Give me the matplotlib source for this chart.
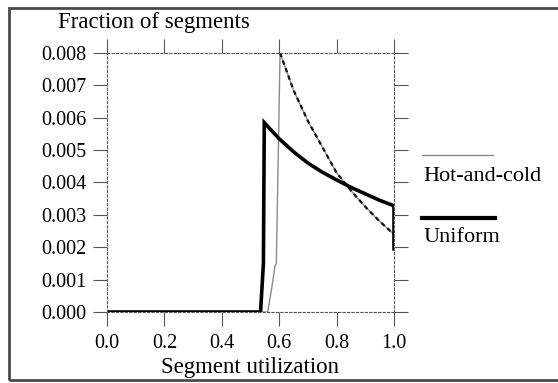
import matplotlib
matplotlib.use("Agg")
import matplotlib.pyplot as plt
from matplotlib.patches import Rectangle
from matplotlib.lines import Line2D

plt.rcParams['font.family'] = ['Liberation Serif', 'DejaVu Serif']

# Uniform (thick black)
uni_x = [0.0, 0.535, 0.545, 0.548, 0.6, 0.65, 0.7, 0.75, 0.8, 0.85, 0.9, 0.95, 1.0, 1.0]
uni_y = [0.0, 0.0, 0.0015, 0.00585, 0.00535, 0.00495, 0.0046, 0.00432, 0.00408,
         0.00385, 0.00365, 0.00345, 0.00328, 0.00195]

# Hot-and-cold (thin gray rise, dashed black decay)
hc_rise_x = [0.0, 0.56, 0.575, 0.585, 0.59, 0.603]
hc_rise_y = [0.0, 0.0, 0.0008, 0.0014, 0.0015, 0.0080]
hc_x = [0.603, 0.65, 0.7, 0.75, 0.8, 0.85, 0.9, 0.95, 1.0, 1.0]
hc_y = [0.0080, 0.00685, 0.0059, 0.0051, 0.0043, 0.00375, 0.00325, 0.0028, 0.0024, 0.0021]

xticks = [0.0, 0.2, 0.4, 0.6, 0.8, 1.0]
xticklabels = ['0.0', '0.2', '0.4', '0.6', '0.8', '1.0']
yticks = [0.000, 0.001, 0.002, 0.003, 0.004, 0.005, 0.006, 0.007, 0.008]
yticklabels = ['0.000', '0.001', '0.002', '0.003', '0.004', '0.005', '0.006', '0.007', '0.008']

fig = plt.figure(figsize=(5.58, 3.83), dpi=100)
ax = fig.add_axes([107/558, 1-312/383, 287/558, 259/383])

ax.plot(hc_rise_x, hc_rise_y, color='#8a8a8a', lw=1.0)
ax.plot(hc_x, hc_y, color='#8a8a8a', lw=1.0)
ax.plot(hc_x, hc_y, color='#111111', lw=1.6, linestyle=(0, (2.0, 1.6)))
ax.plot(uni_x, uni_y, color='#000000', lw=2.6, solid_joinstyle='miter')

ax.set_xlim(0, 1.0)
ax.set_ylim(0, 0.008)
for s in ax.spines.values():
    s.set_linestyle((0, (2, 2)))
    s.set_linewidth(0.8)
    s.set_color('#555555')

ax.set_xticks(xticks)
ax.set_xticklabels(xticklabels)
ax.set_yticks(yticks)
ax.set_yticklabels(yticklabels)
ax.tick_params(axis='both', direction='out', length=10, width=0.8, color='#555555',
               labelsize=14.5, top=True, right=True, labeltop=False, labelright=False)
ax.tick_params(axis='y', pad=5)
ax.tick_params(axis='x', pad=6)

fig.text(0.276, 0.94, 'Fraction of segments', fontsize=16.5, ha='center', va='center')
fig.text(0.448, 1-368/383, 'Segment utilization', fontsize=16.5, ha='center', va='center')

# legend
fig.add_artist(Line2D([422/558, 493/558], [1-155/383, 1-155/383], color='#8a8a8a', lw=1.0))
fig.text(423/558, 1-176/383, 'Hot-and-cold', fontsize=16, ha='left', va='center')
fig.add_artist(Line2D([422/558, 495/558], [1-218/383, 1-218/383], color='#000000', lw=3.0))
fig.text(423/558, 1-237/383, 'Uniform', fontsize=16, ha='left', va='center')

# figure border
fig.add_artist(Rectangle((9/558, 1-380/383), 1.2, 372/383, transform=fig.transFigure,
                         fill=False, edgecolor='#4a4a4a', lw=2.0))

fig.savefig('out.png', dpi=100)
